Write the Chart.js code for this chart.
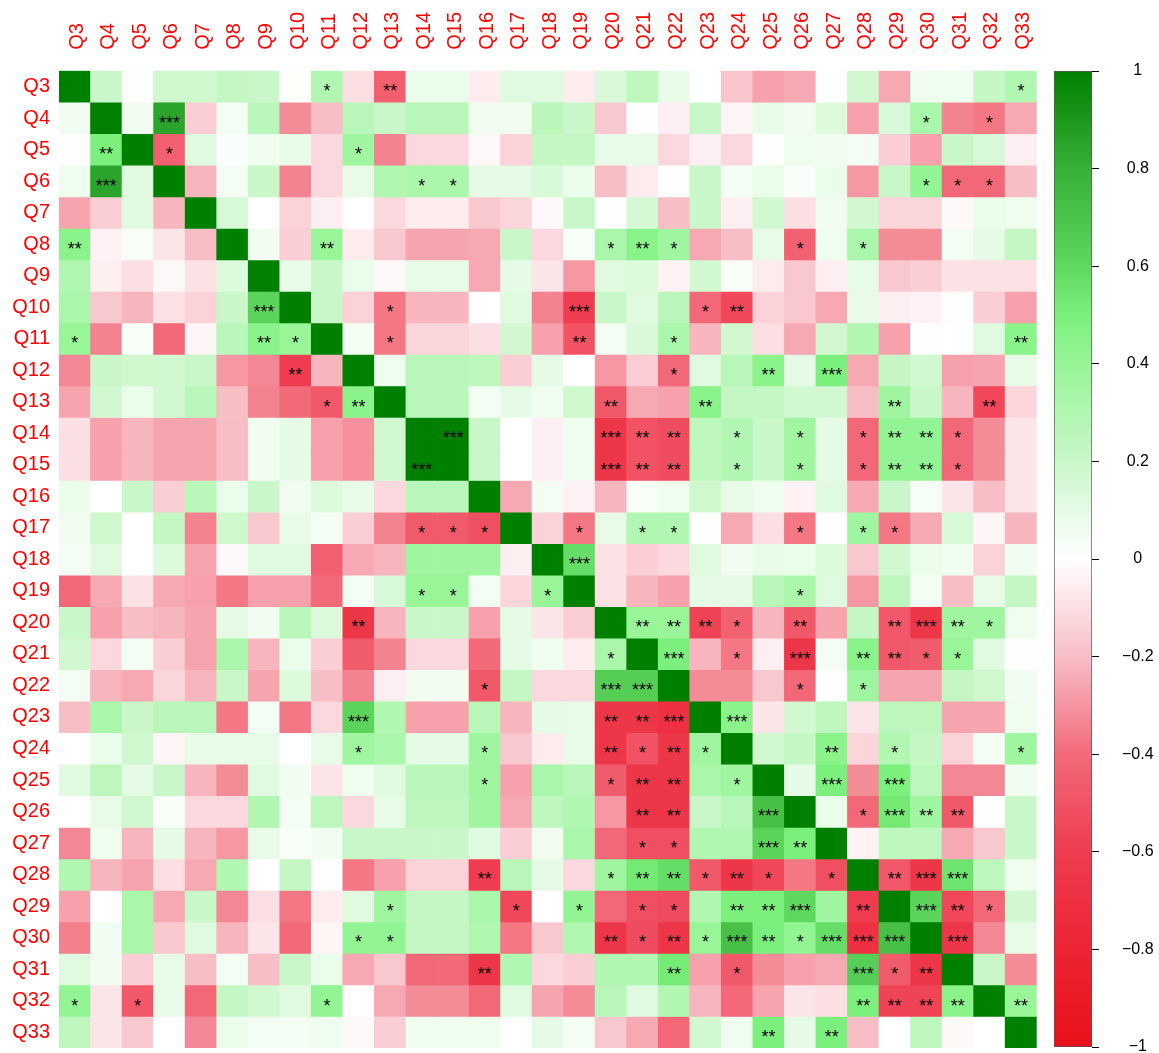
<!DOCTYPE html>
<html>
<head>
<meta charset="utf-8">
<script src="https://cdn.jsdelivr.net/npm/chart.js@4.4.1/dist/chart.umd.min.js"></script>
<style>
html,body{margin:0;padding:0;background:#ffffff;width:1159px;height:1053px;overflow:hidden;}
.wrap{position:absolute;top:0;}
</style>
</head>
<body>
<div class="wrap" style="left:0;width:1040px;height:1053px"><canvas id="main"></canvas></div>
<div class="wrap" style="left:1040px;width:119px;height:1053px"><canvas id="bar"></canvas></div>
<script>
// ---------------- DATA ----------------
const variables = ['Q3','Q4','Q5','Q6','Q7','Q8','Q9','Q10','Q11','Q12','Q13','Q14','Q15','Q16','Q17','Q18','Q19','Q20','Q21','Q22','Q23','Q24','Q25','Q26','Q27','Q28','Q29','Q30','Q31','Q32','Q33'];

// correlation values, one row per variable (columns in the same order as `variables`)
const corrQ3  = [1,0.2,0.01,0.18,0.18,0.22,0.2,0.01,0.3,-0.1,-0.45, 0.08,0.08,-0.06,0.12,0.12,-0.06,0.14,0.25,0.09,0,-0.18,-0.27, -0.25,0,0.17,-0.25,0.06,0.06,0.22,0.3];
const corrQ4  = [0.05,1,0.05,0.85,-0.15,0.04,0.27,-0.32,-0.2,0.27,0.2, 0.27,0.27,0.05,0.05,0.26,0.2,-0.17,0.01,-0.05,0.2,-0.03,0.09, 0.05,0.13,-0.27,0.15,0.33,-0.34,-0.37,-0.25];
const corrQ5  = [0.01,0.5,1,-0.45,0.12,0.02,0.05,0.09,-0.12,0.37,-0.34, -0.12,-0.12,-0.02,-0.14,0.22,0.22,0.09,0.09,-0.12,-0.05,-0.12,0.01, 0.06,0.05,0.04,-0.15,-0.27,0.2,0.15,-0.05];
const corrQ6  = [0.06,0.85,0.12,1,-0.22,0.04,0.2,-0.34,-0.12,0.09,0.3, 0.33,0.33,0.1,0.1,0.15,0.08,-0.2,-0.06,0.01,0.2,0.04,0.08, 0.02,0.08,-0.29,0.2,0.42,-0.41,-0.41,-0.2];
const corrQ7  = [-0.26,-0.15,0.12,-0.22,1,0.15,0,-0.14,-0.05,0,-0.12, -0.06,-0.06,-0.17,-0.13,-0.02,0.2,0.01,0.16,-0.2,0.2,-0.05,0.17, -0.1,0.05,0.17,-0.13,-0.13,-0.02,0.08,0.06];
const corrQ8  = [0.45,-0.04,0.03,-0.08,-0.2,1,0.05,-0.15,0.4,-0.06,-0.17, -0.26,-0.26,-0.25,0.2,-0.12,0.03,0.33,0.45,0.37,-0.25,-0.2,0.09, -0.44,0.06,0.33,-0.32,-0.32,0.04,0.1,0.22];
const corrQ9  = [0.3,-0.05,-0.1,-0.02,-0.09,0.13,1,0.09,0.2,0.08,-0.02, 0.09,0.09,-0.25,0.1,-0.08,-0.29,0.12,0.13,-0.04,0.17,0.03,-0.06, -0.17,-0.05,0.09,-0.17,-0.15,-0.09,-0.09,-0.09];
const corrQ10 = [0.33,-0.17,-0.22,-0.09,-0.14,0.2,0.62,1,0.2,-0.14,-0.37, -0.22,-0.22,0,0.12,-0.34,-0.6,0.2,0.12,0.27,-0.41,-0.55,-0.14, -0.17,-0.25,0.09,-0.05,-0.04,0.01,-0.15,-0.27];
const corrQ11 = [0.4,-0.34,0.03,-0.41,-0.03,0.27,0.45,0.4,1,0.04,-0.37, -0.13,-0.13,-0.1,0.17,-0.27,-0.5,0.04,0.14,0.33,-0.22,0.17,-0.1, -0.25,0.17,0.3,-0.27,0.01,0,0.12,0.45];
const corrQ12 = [-0.33,0.2,0.18,0.17,0.2,-0.29,-0.33,-0.6,-0.22,1,0.06, 0.27,0.27,0.25,-0.15,0.1,0,-0.29,-0.15,-0.41,0.12,0.27,0.45, 0.1,0.5,-0.25,0.22,0.17,-0.27,-0.26,0.09];
const corrQ13 = [-0.26,0.17,0.08,0.17,0.27,-0.2,-0.34,-0.4,-0.48,0.45,1, 0.27,0.27,0.04,0.1,0.06,0.18,-0.48,-0.25,-0.27,0.45,0.22,0.23, 0.17,0.17,-0.2,0.37,0.2,-0.22,-0.55,-0.13];
const corrQ14 = [-0.1,-0.27,-0.22,-0.26,-0.26,-0.2,0.05,0.1,-0.27,-0.31,0.17, 1,1,0.2,0,-0.05,0.06,-0.65,-0.5,-0.53,0.25,0.3,0.2, 0.37,0.1,-0.41,0.42,0.42,-0.41,-0.32,-0.08];
const corrQ15 = [-0.1,-0.27,-0.22,-0.26,-0.26,-0.2,0.05,0.1,-0.27,-0.31,0.17, 1,1,0.2,0,-0.05,0.06,-0.65,-0.5,-0.53,0.25,0.3,0.2, 0.37,0.1,-0.41,0.42,0.42,-0.41,-0.32,-0.08];
const corrQ16 = [0.08,0,0.2,-0.15,0.27,0.08,0.2,0.05,0.13,0.09,-0.12, 0.27,0.27,1,-0.25,0.04,-0.04,-0.22,0.03,0.06,0.18,0.09,0.06, -0.04,0.12,-0.25,0.2,0.03,-0.08,-0.2,-0.08];
const corrQ17 = [0.05,0.18,0,0.22,-0.34,0.18,-0.17,0.09,0.04,-0.15,-0.34, -0.47,-0.47,-0.52,1,-0.14,-0.37,0.09,0.3,0.3,0,-0.25,-0.1, -0.37,0,0.37,-0.37,-0.25,0.15,-0.03,-0.22];
const corrQ18 = [0.04,0.12,0,0.13,-0.26,-0.02,0.12,0.12,-0.44,-0.25,-0.22, 0.37,0.37,0.37,-0.05,1,0.58,-0.09,-0.15,-0.12,0.12,0.05,0.09, 0.08,0.13,-0.17,0.17,0.08,0.06,-0.14,0.05];
const corrQ19 = [-0.41,-0.25,-0.09,-0.25,-0.27,-0.37,-0.27,-0.27,-0.4,0.04,0.15, 0.4,0.4,0.04,-0.13,0.4,1,-0.09,-0.22,-0.27,0.1,0.1,0.27, 0.33,0.12,-0.29,0.25,0.04,-0.2,0.09,0.22];
const corrQ20 = [0.2,-0.27,-0.2,-0.22,-0.26,0.1,0.05,0.27,0.13,-0.65,-0.22, 0.2,0.2,-0.27,0.1,-0.08,-0.15,1,0.4,0.4,-0.57,-0.44,-0.22, -0.48,-0.26,0.22,-0.48,-0.65,0.37,0.37,0.06];
const corrQ21 = [0.17,-0.12,0.04,-0.15,-0.26,0.33,-0.22,0.08,-0.15,-0.46,-0.34, -0.12,-0.12,-0.4,0.1,0.06,-0.06,0.33,1,0.5,-0.22,-0.37,-0.05, -0.65,0.04,0.45,-0.48,-0.46,0.4,0.12,0.01];
const corrQ22 = [0.04,-0.22,-0.25,-0.13,-0.22,0.2,-0.26,0.13,-0.2,-0.34,-0.05, 0.05,0.05,-0.48,0.22,-0.12,-0.12,0.65,0.65,1,-0.32,-0.32,-0.17, -0.41,0,0.37,-0.26,-0.26,0.22,0.18,0.05];
const corrQ23 = [-0.2,0.33,0.2,0.27,0.27,-0.37,0.04,-0.37,-0.12,0.62,0.3, -0.27,-0.27,0.27,-0.22,0.1,0.09,-0.65,-0.65,-0.7,1,0.45,-0.08, 0.17,0.25,-0.08,0.25,0.25,-0.26,-0.26,0.06];
const corrQ24 = [0,0.08,0.18,-0.03,0.09,0.09,0.09,0,0.09,0.37,0.33, 0.1,0.1,0.37,-0.17,-0.06,0.09,-0.65,-0.5,-0.65,0.37,1,0.17, 0.22,0.45,-0.13,0.3,0.22,-0.14,0.04,0.37];
const corrQ25 = [0.12,0.25,0.1,0.2,-0.22,-0.32,0.12,0.05,-0.08,0.06,0.12, 0.27,0.27,0.37,-0.27,0.33,0.27,-0.46,-0.65,-0.65,0.33,0.37,1, 0.1,0.5,-0.32,0.5,0.25,-0.33,-0.33,0.05];
const corrQ26 = [0,0.09,0.17,0.03,-0.12,-0.12,0.3,0.04,0.25,-0.12,0.09, 0.25,0.25,0.37,-0.25,0.25,0.3,-0.29,-0.65,-0.65,0.2,0.27,0.72, 1,0.08,-0.41,0.53,0.37,-0.48,0,0.2];
const corrQ27 = [-0.33,0.06,-0.22,0.1,-0.22,-0.29,0.09,0.03,0.05,0.2,0.2, 0.2,0.2,0.12,-0.15,0.05,0.33,-0.41,-0.52,-0.52,0.3,0.3,0.62, 0.5,1,-0.04,0.25,0.25,-0.25,-0.17,0.2];
const corrQ28 = [0.3,-0.22,-0.26,-0.1,-0.25,0.3,0,0.22,0.01,-0.37,-0.27, -0.14,-0.14,-0.6,0.27,0.1,-0.12,0.37,0.53,0.58,-0.48,-0.65,-0.55, -0.37,-0.52,1,-0.48,-0.65,0.55,0.25,0.06];
const corrQ29 = [-0.27,0,0.33,-0.25,0.2,-0.33,-0.1,-0.37,-0.06,0.12,0.37, 0.22,0.22,0.33,-0.55,0,0.42,-0.41,-0.52,-0.53,0.3,0.5,0.5, 0.6,0.37,-0.6,1,0.62,-0.55,-0.41,0.17];
const corrQ30 = [-0.35,0.05,0.33,-0.17,0.12,-0.22,-0.08,-0.41,-0.03,0.42,0.42, 0.22,0.22,0.3,-0.37,-0.17,0.3,-0.65,-0.53,-0.65,0.4,0.72,0.5, 0.42,0.58,-0.7,0.72,1,-0.65,-0.33,0.09];
const corrQ31 = [0.12,0.05,-0.15,0.09,-0.2,0.04,-0.2,0.2,0.08,-0.25,-0.17, -0.4,-0.4,-0.65,0.3,-0.12,-0.15,0.3,0.3,0.52,-0.27,-0.48,-0.32, -0.27,-0.25,0.65,-0.46,-0.65,1,0.2,-0.32];
const corrQ32 = [0.42,-0.08,-0.48,0.09,-0.41,0.22,0.17,0.12,0.42,0,-0.25, -0.32,-0.32,-0.41,0.12,-0.26,-0.32,0.27,0.12,0.3,-0.22,-0.41,-0.26, -0.08,-0.1,0.5,-0.57,-0.57,0.45,1,0.4];
const corrQ33 = [0.25,-0.08,-0.17,0,-0.33,0.08,0.04,0.04,0.06,-0.02,-0.15, 0.06,0.06,0.06,0,0.1,0.04,-0.17,-0.25,-0.41,0.17,0.06,0.5, 0.1,0.5,-0.2,0,0.25,-0.02,0,1];

const corrRows = [corrQ3,corrQ4,corrQ5,corrQ6,corrQ7,corrQ8,corrQ9,corrQ10,corrQ11,corrQ12,corrQ13,corrQ14,corrQ15,corrQ16,corrQ17,corrQ18,corrQ19,corrQ20,corrQ21,corrQ22,corrQ23,corrQ24,corrQ25,corrQ26,corrQ27,corrQ28,corrQ29,corrQ30,corrQ31,corrQ32,corrQ33];

// significance marks per row: "column:stars"
const significance = [
  'Q11:* Q13:** Q33:*',
  'Q6:*** Q30:* Q32:*',
  'Q4:** Q6:* Q12:*',
  'Q4:*** Q14:* Q15:* Q30:* Q31:* Q32:*',
  '',
  'Q3:** Q11:** Q20:* Q21:** Q22:* Q26:* Q28:*',
  '',
  'Q9:*** Q13:* Q19:*** Q23:* Q24:**',
  'Q3:* Q9:** Q10:* Q13:* Q19:** Q22:* Q33:**',
  'Q10:** Q22:* Q25:** Q27:***',
  'Q11:* Q12:** Q20:** Q23:** Q29:** Q32:**',
  'Q15:*** Q20:*** Q21:** Q22:** Q24:* Q26:* Q28:* Q29:** Q30:** Q31:*',
  'Q14:*** Q20:*** Q21:** Q22:** Q24:* Q26:* Q28:* Q29:** Q30:** Q31:*',
  '',
  'Q14:* Q15:* Q16:* Q19:* Q21:* Q22:* Q26:* Q28:* Q29:*',
  'Q19:***',
  'Q14:* Q15:* Q18:* Q26:*',
  'Q12:** Q21:** Q22:** Q23:** Q24:* Q26:** Q29:** Q30:*** Q31:** Q32:*',
  'Q20:* Q22:*** Q24:* Q26:*** Q28:** Q29:** Q30:* Q31:*',
  'Q16:* Q20:*** Q21:*** Q26:* Q28:*',
  'Q12:*** Q20:** Q21:** Q22:*** Q24:***',
  'Q12:* Q16:* Q20:** Q21:* Q22:** Q23:* Q27:** Q29:* Q33:*',
  'Q16:* Q20:* Q21:** Q22:** Q24:* Q27:*** Q29:***',
  'Q21:** Q22:** Q25:*** Q28:* Q29:*** Q30:** Q31:**',
  'Q21:* Q22:* Q25:*** Q26:**',
  'Q16:** Q20:* Q21:** Q22:** Q23:* Q24:** Q25:* Q27:* Q29:** Q30:*** Q31:***',
  'Q13:* Q17:* Q19:* Q21:* Q22:* Q24:** Q25:** Q26:*** Q28:** Q30:*** Q31:** Q32:*',
  'Q12:* Q13:* Q20:** Q21:* Q22:** Q23:* Q24:*** Q25:** Q26:* Q27:*** Q28:*** Q29:*** Q31:***',
  'Q16:** Q22:** Q24:* Q28:*** Q29:* Q30:**',
  'Q3:* Q5:* Q11:* Q28:** Q29:** Q30:** Q31:** Q33:**',
  'Q25:** Q27:**'
];

const colorbarTicks = [-1,-0.8,-0.6,-0.4,-0.2,0,0.2,0.4,0.6,0.8,1];

// ---------------- COLOUR SCALE ----------------
const colorStops = [
  [-1.0,[232,16,26]],[-0.8,[236,36,52]],[-0.6,[239,60,80]],[-0.4,[242,106,122]],[-0.2,[248,190,198]],
  [0,[255,255,255]],
  [0.2,[202,247,202]],[0.4,[152,245,152]],[0.5,[124,240,124]],[0.6,[96,216,96]],[0.8,[56,176,56]],[1.0,[0,128,0]]
];
function colorFor(v){
  v = Math.max(-1, Math.min(1, v));
  for (let i = 0; i < colorStops.length - 1; i++) {
    const [a, ca] = colorStops[i], [b, cb] = colorStops[i+1];
    if (v >= a && v <= b) {
      const t = (v - a) / (b - a);
      const c = ca.map((x, k) => Math.round(x + (cb[k] - x) * t));
      return 'rgb(' + c.join(',') + ')';
    }
  }
  return 'rgb(0,128,0)';
}

const FONT = "'Liberation Sans', Arial, Helvetica, sans-serif";
Chart.defaults.font.family = FONT;
Chart.defaults.animation = false;

// ---------------- MAIN HEATMAP ----------------
const sigMap = significance.map(s => {
  const m = {};
  s.split(' ').filter(Boolean).forEach(tok => { const [k, v] = tok.split(':'); m[k] = v; });
  return m;
});

const datasets = corrRows.map((row, r) => ({
  label: variables[r],
  data: row.map(() => [r - 0.5, r + 0.5]),
  backgroundColor: row.map(colorFor),
  borderWidth: 0,
  barPercentage: 1,
  categoryPercentage: 1,
  grouped: false
}));

const starPlugin = {
  id: 'stars',
  afterDatasetsDraw(chart) {
    const c = chart.ctx, xs = chart.scales.x, ys = chart.scales.y;
    const fs = 18;
    c.save();
    c.fillStyle = '#000000';
    c.font = fs + 'px ' + FONT;
    c.textAlign = 'center';
    c.textBaseline = 'alphabetic';
    sigMap.forEach((m, r) => {
      Object.keys(m).forEach(col => {
        const j = variables.indexOf(col);
        const x = xs.getPixelForValue(j);
        const y = ys.getPixelForValue(r);
        c.fillText(m[col], x, y + fs * 0.6);
      });
    });
    c.restore();
  }
};

new Chart(document.getElementById('main'), {
  type: 'bar',
  data: { labels: variables, datasets },
  options: {
    responsive: true,
    maintainAspectRatio: false,
    devicePixelRatio: 1,
    layout: { padding: { left: 0, top: 0, right: 3.3, bottom: 5 } },
    plugins: { legend: { display: false }, tooltip: { enabled: false } },
    events: [],
    scales: {
      x: {
        type: 'category',
        position: 'top',
        offset: true,
        grid: { display: false, drawTicks: false },
        border: { display: false },
        ticks: { color: '#ff0000', font: { size: 20 }, minRotation: 90, maxRotation: 90, autoSkip: false, padding: 21, labelOffset: 26.5 },
        afterFit(s) { s.height = 70.7; s.paddingLeft = 0; s.paddingRight = 0; }
      },
      y: {
        type: 'linear',
        reverse: true,
        min: -0.5,
        max: variables.length - 0.5,
        grid: { display: false, drawTicks: false },
        border: { display: false },
        afterBuildTicks(s) { s.ticks = variables.map((_, i) => ({ value: i })); },
        ticks: { color: '#ff0000', font: { size: 20 }, autoSkip: false, padding: 9,
                 callback: v => variables[Math.round(v)] },
        afterFit(s) { s.width = 59; s.paddingTop = 0; s.paddingBottom = 0; }
      }
    }
  },
  plugins: [starPlugin]
});

// ---------------- COLOUR BAR ----------------
function fmtTick(v){
  const r = Math.round(v * 10) / 10;
  if (r === 0) return '0';
  return (r < 0 ? '\u2212' : '') + String(Math.abs(r));
}

new Chart(document.getElementById('bar'), {
  type: 'bar',
  data: {
    labels: [''],
    datasets: [{
      data: [[-1, 1]],
      backgroundColor(ctx) {
        const ch = ctx.chart, area = ch.chartArea;
        if (!area) return '#ffffff';
        const ys = ch.scales.y;
        const g = ch.ctx.createLinearGradient(0, ys.getPixelForValue(-1), 0, ys.getPixelForValue(1));
        colorStops.forEach(([v]) => g.addColorStop((v + 1) / 2, colorFor(v)));
        return g;
      },
      borderColor: '#555555',
      borderWidth: 1,
      borderSkipped: false,
      barPercentage: 1,
      categoryPercentage: 1
    }]
  },
  options: {
    responsive: true,
    maintainAspectRatio: false,
    devicePixelRatio: 1,
    layout: { padding: { left: 14, top: 71, right: 0, bottom: 6 } },
    plugins: { legend: { display: false }, tooltip: { enabled: false } },
    events: [],
    scales: {
      x: { display: false },
      y: {
        position: 'right',
        min: -1, max: 1,
        afterBuildTicks(s) { s.ticks = colorbarTicks.map(v => ({ value: v })); },
        grid: { drawOnChartArea: false, drawTicks: true, tickLength: 7, color: '#000000', lineWidth: 1 },
        border: { display: false },
        ticks: { color: '#000000', font: { size: 16 }, padding: 23, crossAlign: 'center', callback: fmtTick, autoSkip: false },
        afterFit(s) { s.width = 119 - 52; s.paddingTop = 0; s.paddingBottom = 0; }
      }
    }
  }
});
</script>
</body>
</html>
